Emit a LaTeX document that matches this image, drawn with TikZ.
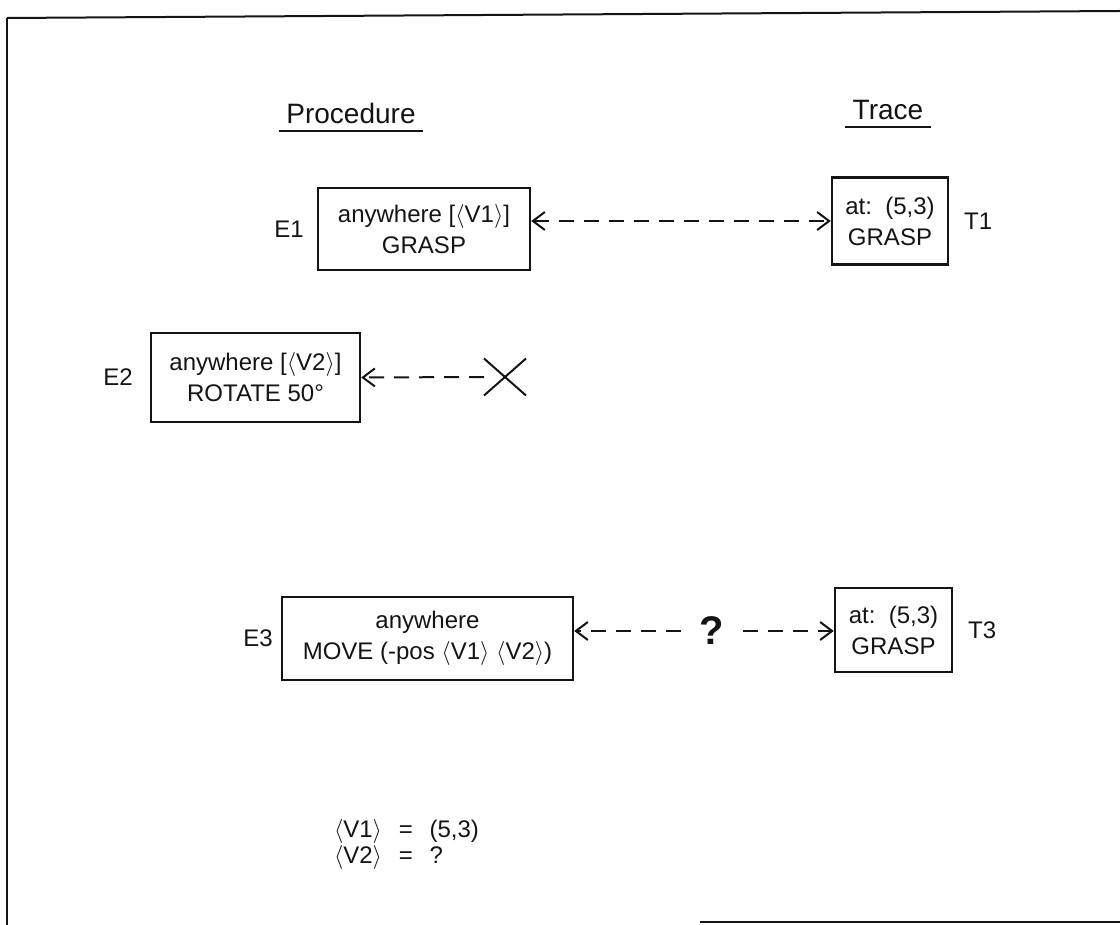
\documentclass[tikz,border=0pt]{standalone}
\usepackage{fontspec}
\setmainfont{Liberation Sans}
\usetikzlibrary{arrows.meta,positioning,shapes.misc}
\definecolor{ink}{RGB}{20,20,20}
\newcommand{\lv}{$\langle$}
\newcommand{\rv}{$\rangle$}
\tikzset{
  every picture/.style={color=ink, line width=1pt},
  >={Straight Barb[length=6pt,width=9pt,line width=1pt]},
  box/.style={draw=ink, line width=1.2pt, align=center, inner sep=2pt, font=\fontsize{12}{15.5}\selectfont},
  tag/.style={font=\fontsize{12}{14}\selectfont, inner sep=0pt},
  head/.style={font=\fontsize{14}{16}\selectfont},
  link/.style={dash pattern=on 7.5pt off 5pt, line width=1pt},
  nomatch/.style={cross out, draw=ink, line width=1pt, minimum width=20pt, minimum height=17.5pt, inner sep=0pt},
  query/.style={font=\bfseries\fontsize{20}{20}\selectfont, inner xsep=9pt},
}

\begin{document}
\begin{tikzpicture}[x=0.5pt, y=-0.5pt]
  \useasboundingbox (0,0) rectangle (1120,925);
  % scanned frame
  \draw (7,18) -- (1120,11);
  \draw (7,18) -- (7,925);
  \draw (700,922) -- (1120,922);
  % column heads
  \node[head] (proc) at (351,113) {Procedure};
  \node[head] (trace) at (888,110) {Trace};
  \draw (proc.south west) -- (proc.south east);
  \draw (trace.south west) -- (trace.south east);
  % procedure steps
  \node[box, minimum width=106pt, minimum height=41pt] (e1) at (424,229) {anywhere [\lv V1\rv]\\GRASP};
  \node[box, minimum width=104.5pt, minimum height=44.5pt] (e2) at (255.5,377.5) {anywhere [\lv V2\rv]\\ROTATE 50°};
  \node[box, minimum width=145.5pt, minimum height=41.5pt] (e3) at (427.5,638.5) {anywhere\\MOVE (-pos \lv V1\rv\ \lv V2\rv)};
  \node[tag, left=6pt of e1] (e1lbl) {E1};
  \node[tag, left=8pt of e2] (e2lbl) {E2};
  \node[tag, left=3.5pt of e3] (e3lbl) {E3};
  % trace steps
  \node[box, minimum width=58pt, minimum height=43.5pt] (t1) at (890,221) {at:\ \ (5,3)\\GRASP};
  \node[box, minimum width=58.5pt, minimum height=42pt] (t3) at (893.5,630) {at:\ \ (5,3)\\GRASP};
  \node[tag, right=7pt of t1] (t1lbl) {T1};
  \node[tag, right=7pt of t3] (t3lbl) {T3};
  % matches
  \draw[link, <->] (t1.west -| e1.east) -- (t1.west);
  \node[nomatch] (nox) at (505,377) {};
  \draw[link, ->] (nox.west) -- (e2.east);
  \node[query] (qm) at (712,631) {?};
  \draw[link, ->] (qm.west) -- (qm.west -| e3.east);
  \draw[link, ->] (qm.east) -- (qm.east -| t3.west);
  % bindings
  \node[tag, anchor=north west, align=left, font=\fontsize{12}{13}\selectfont] (vals) at (333,818) {\lv V1\rv\hspace{0.7em}=\hspace{0.7em}(5,3)\\\lv V2\rv\hspace{0.7em}=\hspace{0.7em}?};
\end{tikzpicture}
\end{document}
